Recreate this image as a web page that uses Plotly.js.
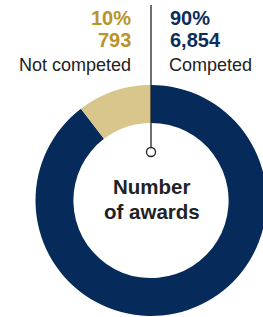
<!DOCTYPE html>
<html><head><meta charset="utf-8">
<script src="https://cdn.plot.ly/plotly-3.0.1.min.js"></script>
<style>html,body{margin:0;padding:0;overflow:hidden;background:#fff;width:263px;height:317px}#chart{width:302px;height:317px}</style>
</head><body><div id="chart"></div>
<script>
const categories = ["Not competed", "Competed"];
const awards = [793, 6854];
const percents = ["10%", "90%"];
const centerLabel = ["Number", "of awards"];
const colors = ["#d8c68c", "#062a5a"];
const textColors = ["#b8942c", "#0c2c5c"];

const W = 302, H = 317, T = 85, B = 1;
const plotH = H - T - B;
const py = p => (H - B - p) / plotH; // pixel y -> paper y
const px = p => p / W;
const font = "Arial, 'Liberation Sans', sans-serif";

function ann(text, x, y, xanchor, size, color, bold) {
  return {text: bold ? "<b>" + text + "</b>" : text, xref: "paper", yref: "paper",
    x: px(x), y: py(y), xanchor: xanchor, yanchor: "middle", showarrow: false,
    font: {family: font, size: size, color: color}};
}

const annotations = [
  ann(percents[0], 133, 18, "right", 20, textColors[0], true),
  ann(awards[0].toLocaleString("en-US"), 133, 40, "right", 20, textColors[0], true),
  ann(categories[0], 133, 64.8, "right", 18, "#222222", false),
  ann(percents[1], 168, 18, "left", 20, textColors[1], true),
  ann(awards[1].toLocaleString("en-US"), 168, 40, "left", 20, textColors[1], true),
  ann(categories[1], 167, 64.8, "left", 18, "#222222", false),
  ann(centerLabel[0], 151.5, 186, "center", 20.5, "#222222", true),
  ann(centerLabel[1], 151.5, 211, "center", 20.5, "#222222", true)
];

const shapes = [
  {type: "line", xref: "paper", yref: "paper", x0: px(151), x1: px(151), y0: py(5), y1: py(147.5),
   line: {color: "#222222", width: 1.3}},
  {type: "circle", xref: "paper", yref: "paper", x0: px(146.5), x1: px(155.5), y0: py(147.5), y1: py(156.5),
   line: {color: "#222222", width: 1.3}, fillcolor: "#ffffff"}
];

// reversed order so "Not competed" sits just left of 12 o'clock
const order = [1, 0];
Plotly.newPlot("chart", [{
  type: "pie", labels: order.map(i => categories[i]), values: order.map(i => awards[i]),
  hole: 0.672, sort: false, direction: "counterclockwise", rotation: 0,
  textinfo: "none", hoverinfo: "none",
  marker: {colors: order.map(i => colors[i]), line: {width: 0}}, showlegend: false,
  domain: {x: [0, 1], y: [0, 1]}
}], {
  width: W, height: H, margin: {l: 0, r: 0, t: T, b: B, pad: 0},
  paper_bgcolor: "#ffffff", plot_bgcolor: "#ffffff",
  annotations: annotations, shapes: shapes, showlegend: false
}, {displayModeBar: false, staticPlot: true});
</script></body></html>
